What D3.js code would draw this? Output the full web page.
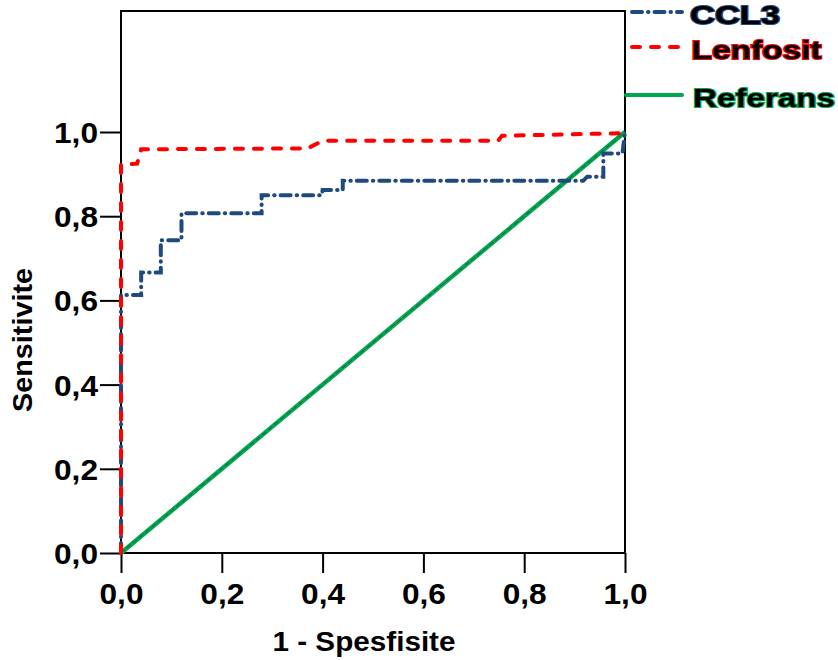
<!DOCTYPE html>
<html>
<head>
<meta charset="utf-8">
<script src="https://cdn.jsdelivr.net/npm/d3@7"></script>
<style>
  body { margin: 0; background: #fff; }
  text { font-family: "Liberation Sans", Arial, sans-serif; font-weight: bold; }
</style>
</head>
<body>
<script>
var width = 838,
    height = 660;

// ROC points (1 - specificity, sensitivity)
var ccl3Fpr = [0, 0, 0.04, 0.04, 0.079, 0.079, 0.12, 0.12, 0.279, 0.279, 0.399, 0.40, 0.44, 0.44, 0.917, 0.925, 0.957, 0.957, 0.995, 1];
var ccl3Tpr = [0, 0.613, 0.613, 0.666, 0.666, 0.743, 0.743, 0.807, 0.807, 0.850, 0.850, 0.862, 0.862, 0.884, 0.884, 0.894, 0.894, 0.949, 0.949, 1];

var lenfFpr = [0, 0, 0.032, 0.04, 0.37, 0.40, 0.748, 0.756, 0.99, 1];
var lenfTpr = [0, 0.922, 0.925, 0.959, 0.961, 0.979, 0.979, 0.991, 0.997, 1];

var refFpr = [0, 1];
var refTpr = [0, 1];

var xTicks = [0, 0.2, 0.4, 0.6, 0.8, 1.0];
var yTicks = [0, 0.2, 0.4, 0.6, 0.8, 1.0];

var legendNames = ["CCL3", "Lenfosit", "Referans"];
var legendColors = ["#1f4a7e", "#ff0000", "#00a651"];

var svg = d3.select("body").append("svg").attr("width", width).attr("height", height);

var X = d3.scaleLinear().domain([0, 1]).range([121, 625]);
var Y = d3.scaleLinear().domain([0, 1]).range([553, 132]);
var yTop = Y.invert(11);

function pts(fx, ty) {
	return fx.map(function(d, i) { return [d, ty[i]]; });
}

var line = d3.line()
	.x(function(d) { return X(d[0]) })
	.y(function(d) { return Y(d[1]) });

// plot frame
svg.append("rect")
	.attr("x", X(0)).attr("y", Y(yTop))
	.attr("width", X(1) - X(0)).attr("height", Y(0) - Y(yTop))
	.style("fill", "none").style("stroke", "black").style("stroke-width", 2);

// axes
var xAxis = svg.append("g").attr("transform", "translate(0," + Y(0) + ")")
	.call(d3.axisBottom(X).tickValues(xTicks).tickSize(20).tickPadding(10)
		.tickFormat(function(d) { return d3.format(".1f")(d).replace(".", ","); }));
var yAxis = svg.append("g").attr("transform", "translate(" + X(0) + ",0)")
	.call(d3.axisLeft(Y).tickValues(yTicks).tickSize(21).tickPadding(2)
		.tickFormat(function(d) { return d3.format(".1f")(d).replace(".", ","); }));

[xAxis, yAxis].forEach(function(a) {
	a.select(".domain").remove();
	a.selectAll("line").style("stroke", "black").style("stroke-width", 2);
	a.selectAll("text").style("font-size", "29px").style("font-weight", "bold")
		.style("font-family", "'Liberation Sans', Arial, sans-serif").style("fill", "black")
		.attr("textLength", 44).attr("lengthAdjust", "spacingAndGlyphs");
});
yAxis.selectAll("text").attr("dy", "0.36em");

// axis titles
svg.append("text").attr("x", 364).attr("y", 651).attr("text-anchor", "middle")
	.style("font-size", "27px").attr("textLength", 183).attr("lengthAdjust", "spacingAndGlyphs")
	.text("1 - Spesfisite");
svg.append("text").attr("transform", "translate(32,340) rotate(-90)").attr("text-anchor", "middle")
	.style("font-size", "28px").attr("textLength", 144).attr("lengthAdjust", "spacingAndGlyphs")
	.text("Sensitivite");

// curves
svg.append("path").datum(pts(refFpr, refTpr)).attr("d", line)
	.style("fill", "none").style("stroke", "#00a651").style("stroke-width", 4.5);
svg.append("path").datum(pts(refFpr, refTpr)).attr("d", line)
	.style("fill", "none").style("stroke", "#1b5a34").style("stroke-width", 1)
	.style("stroke-dasharray", "5,3");

svg.append("path").datum(pts(ccl3Fpr, ccl3Tpr)).attr("d", line)
	.style("fill", "none").style("stroke", "#1f4a7e").style("stroke-width", 4)
	.style("stroke-linecap", "round").style("stroke-dasharray", "10,6,0.5,6");

svg.append("path").datum(pts(lenfFpr, lenfTpr)).attr("d", line)
	.style("fill", "none").style("stroke", "#ff0000").style("stroke-width", 4)
	.style("stroke-linecap", "round").style("stroke-dasharray", "8,11");

// legend
var legY = [12, 47, 95];
var legW = [90, 130, 142];
var legDash = ["10,6,0.5,6", "8,11", null];
var leg = svg.selectAll(".leg").data(legendNames).enter().append("g").attr("class", "leg");
leg.append("line")
	.attr("x1", function(d, i) { return i == 2 ? 626 : 632 })
	.attr("x2", 682)
	.attr("y1", function(d, i) { return legY[i] })
	.attr("y2", function(d, i) { return legY[i] })
	.style("stroke", function(d, i) { return legendColors[i] })
	.style("stroke-width", 4)
	.style("stroke-linecap", "round")
	.style("stroke-dasharray", function(d, i) { return legDash[i] });
leg.append("text")
	.attr("x", function(d, i) { return 690 + i * 1.5 })
	.attr("y", function(d, i) { return legY[i] + 12 })
	.attr("textLength", function(d, i) { return legW[i] })
	.attr("lengthAdjust", "spacingAndGlyphs")
	.style("font-size", "25px")
	.style("fill", "black")
	.style("stroke", function(d, i) { return legendColors[i] })
	.style("stroke-width", 2)
	.style("paint-order", "stroke")
	.text(function(d) { return d });
</script>
</body>
</html>
